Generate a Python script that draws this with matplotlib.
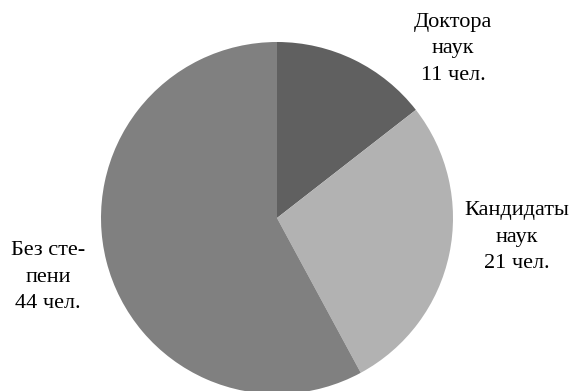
import matplotlib
matplotlib.use("Agg")
import matplotlib.pyplot as plt

# data
labels = [["Доктора", "наук", "11 чел."],
          ["Кандидаты", "наук", "21 чел."],
          ["Без сте-", "пени", "44 чел."]]
counts = [11, 21, 44]
colors = ["#606060", "#b2b2b2", "#808080"]

W, H = 574, 391
fig = plt.figure(figsize=(W / 100, H / 100), dpi=100)
ax = fig.add_axes([0, 0, 1, 1])

ax.pie(counts, colors=colors, startangle=90, counterclock=False,
       center=(277, H - 218), radius=176,
       wedgeprops=dict(linewidth=0), frame=True)
ax.set_xlim(0, W)
ax.set_ylim(0, H)
ax.set_aspect('equal')
ax.axis('off')

# label positions (pixels from top-left, first line), one text per line
label_pos = [(453, 22), (517, 211), (48, 251)]
line_step = 26.5
for lines, (x, y) in zip(labels, label_pos):
    for i, line in enumerate(lines):
        fig.text(x / W, 1 - (y + i * line_step) / H, line, ha='center', va='center',
                 fontsize=16, family='Liberation Serif', color='black')

plt.savefig("out.png", dpi=100)
